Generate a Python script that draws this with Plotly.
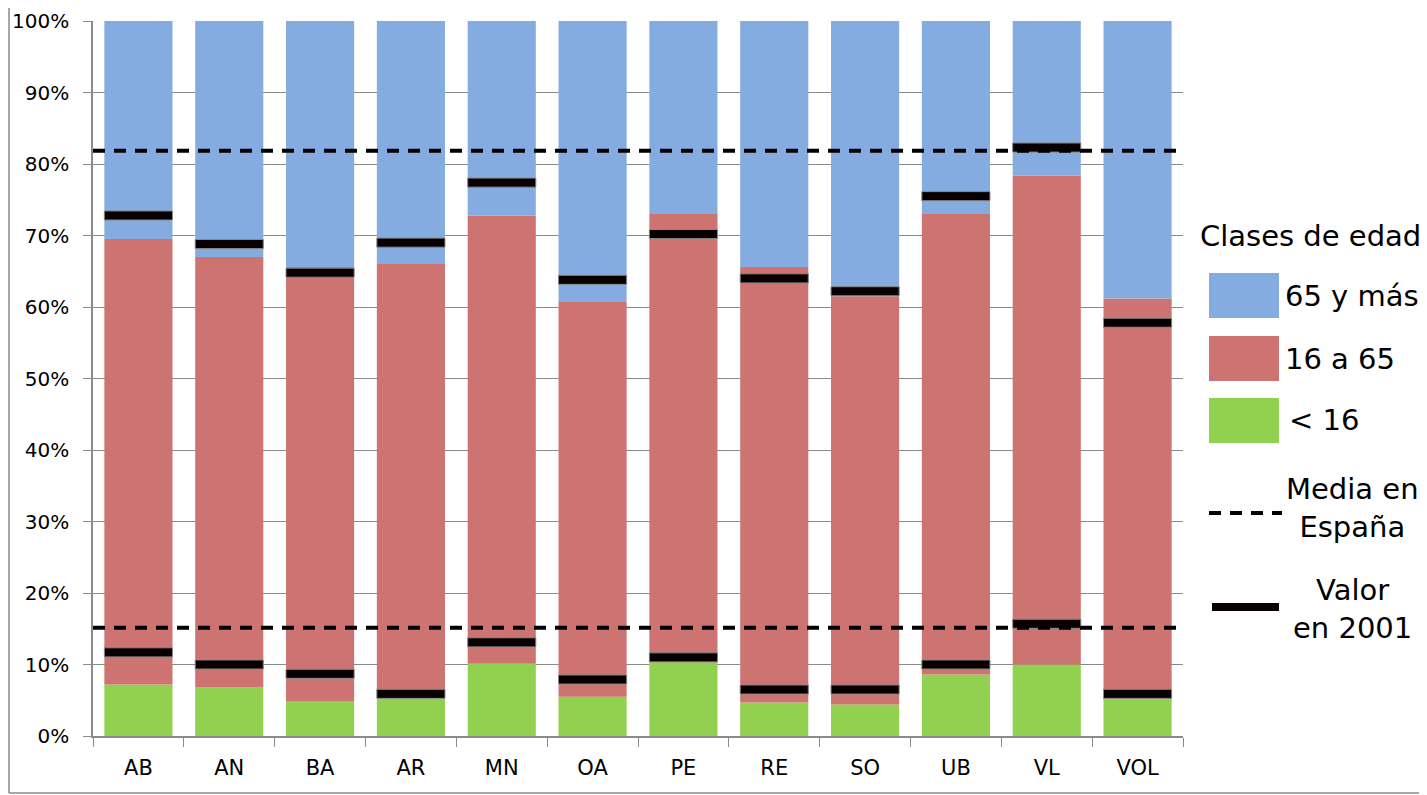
import plotly.graph_objects as go

# categorias y porcentajes
zonas = ["AB", "AN", "BA", "AR", "MN", "OA", "PE", "RE", "SO", "UB", "VL", "VOL"]
menores_16 = [7.2, 6.8, 4.9, 5.3, 10.1, 5.5, 10.3, 4.7, 4.4, 8.6, 10.0, 5.1]
de_16_a_65 = [62.3, 60.2, 60.7, 60.7, 62.7, 55.3, 62.8, 60.9, 57.1, 64.5, 68.4, 56.1]
mayores_65 = [30.5, 33.0, 34.4, 34.0, 27.2, 39.2, 26.9, 34.4, 38.5, 26.9, 21.6, 38.8]

# valores de 2001 (acumulados)
menores_16_2001 = [11.7, 10.0, 8.7, 5.9, 13.1, 7.9, 11.0, 6.5, 6.5, 10.0, 15.7, 5.9]
hasta_65_2001 = [72.8, 68.8, 64.8, 69.0, 77.4, 63.8, 70.2, 64.0, 62.2, 75.5, 82.3, 57.8]

# media en Espana
media_espana = [15.15, 81.85]

VERDE = "#92D050"
ROJO = "#CD7371"
AZUL = "#84ACE0"
FONT = "DejaVu Sans"

# the page puts the figure 8px in from the top-left corner
OFF = 8
W, H = 1427 - OFF, 795 - OFF
# plot area in page pixels (for the hand-made legend)
L, R, T, B = 93, 1183, 21, 736


def px_x(px):
    return (px - L) / (R - L)


def px_y(py):
    return (B - py) / (B - T)


base_rojo = menores_16
base_azul = [g + r for g, r in zip(menores_16, de_16_a_65)]
grosor = 1.27

fig = go.Figure()
fig.add_trace(go.Bar(x=zonas, y=menores_16, base=[0] * len(zonas), name="< 16",
                     marker=dict(color=VERDE, line=dict(width=0)), width=0.75))
fig.add_trace(go.Bar(x=zonas, y=de_16_a_65, base=base_rojo, name="16 a 65",
                     marker=dict(color=ROJO, line=dict(width=0)), width=0.75))
fig.add_trace(go.Bar(x=zonas, y=mayores_65, base=base_azul, name="65 y más",
                     marker=dict(color=AZUL, line=dict(width=0)), width=0.75))
for valores in (menores_16_2001, hasta_65_2001):
    fig.add_trace(go.Bar(x=zonas, y=[grosor] * len(zonas), base=[v - grosor / 2 for v in valores],
                         name="Valor en 2001", width=0.75,
                         marker=dict(color="#080000", line=dict(color="#8a8a8a", width=1))))

shapes = []
for m in media_espana:
    shapes.append(dict(type="line", xref="x domain", yref="y", x0=0, x1=1, y0=m, y1=m,
                       line=dict(color="black", width=4, dash="12px,9px"), layer="above"))

# chart border (left and bottom visible)
shapes.append(dict(type="line", xref="paper", yref="paper", x0=px_x(9), x1=px_x(9),
                   y0=px_y(793), y1=px_y(0), line=dict(color="#8a8a8a", width=1.5)))
shapes.append(dict(type="line", xref="paper", yref="paper", x0=px_x(9), x1=px_x(1427),
                   y0=px_y(793), y1=px_y(793), line=dict(color="#8a8a8a", width=1.5)))

# legend swatches
for color, y0, y1 in [(AZUL, 273, 318), (ROJO, 336, 381), (VERDE, 398, 443)]:
    shapes.append(dict(type="rect", xref="paper", yref="paper", x0=px_x(1209), x1=px_x(1279),
                       y0=px_y(y1), y1=px_y(y0), fillcolor=color, line=dict(width=0)))
shapes.append(dict(type="line", xref="paper", yref="paper", x0=px_x(1209), x1=px_x(1282),
                   y0=px_y(513), y1=px_y(513), line=dict(color="black", width=4, dash="12px,9px")))
shapes.append(dict(type="line", xref="paper", yref="paper", x0=px_x(1212), x1=px_x(1279),
                   y0=px_y(607), y1=px_y(607), line=dict(color="#080000", width=8)))

annotations = []
legend_texts = [
    ("Clases de edad", 1310, 236, "center"),
    ("65 y más", 1283, 296, "left"),
    ("16 a 65", 1283, 359, "left"),
    ("< 16", 1287, 420, "left"),
    ("Media en<br>España", 1352, 508, "center"),
    ("Valor<br>en 2001", 1352, 609, "center"),
]
for txt, x, y, al in legend_texts:
    annotations.append(dict(text=txt, xref="paper", yref="paper", x=px_x(x), y=px_y(y),
                            xanchor=al, yanchor="middle", align="center", showarrow=False,
                            font=dict(family=FONT, size=29, color="black")))

fig.update_layout(
    width=W, height=H,
    margin=dict(l=L - OFF, r=1427 - R, t=T - OFF, b=795 - B),
    barmode="overlay",
    showlegend=False,
    plot_bgcolor="white", paper_bgcolor="white",
    font=dict(family=FONT, color="black"),
    shapes=shapes,
    annotations=annotations,
)
fig.update_xaxes(type="category", showline=True, linecolor="#8a8a8a", linewidth=1.5,
                 ticks="outside", tickson="boundaries", ticklen=9, tickcolor="#8a8a8a",
                 ticklabelstandoff=12,
                 tickfont=dict(size=21, family=FONT), showgrid=False, automargin=False)
fig.update_yaxes(range=[0, 100], dtick=10, ticksuffix="%", showline=True, linecolor="#8a8a8a",
                 linewidth=1.5, ticks="outside", ticklen=8, tickcolor="#8a8a8a",
                 ticklabelstandoff=10, automargin=False,
                 gridcolor="#8a8a8a", gridwidth=1, zeroline=False,
                 tickfont=dict(size=20, family=FONT))

fig.write_html("out.html")
